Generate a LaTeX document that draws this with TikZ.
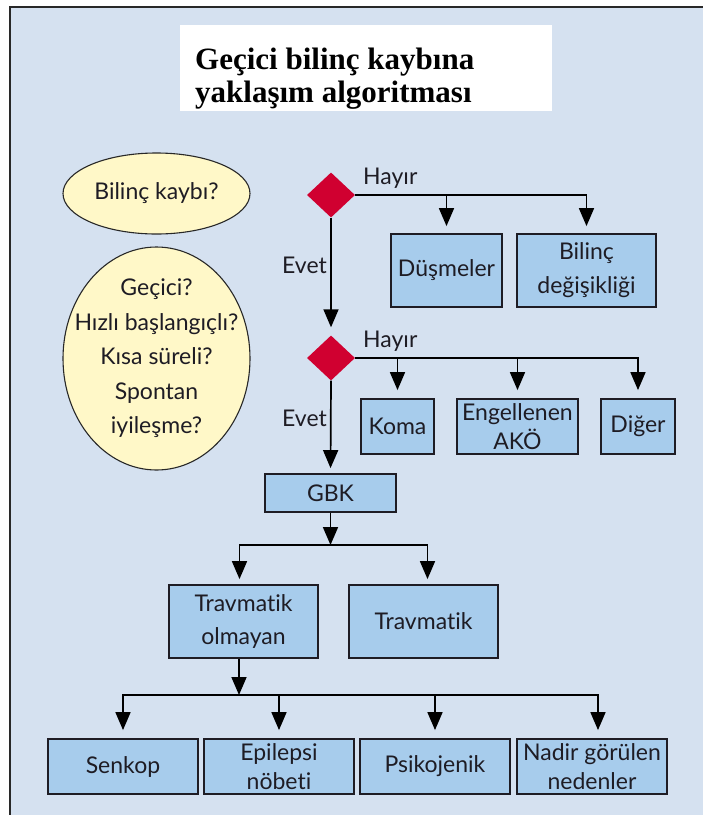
\documentclass[tikz,border=0pt]{standalone}
\usepackage{fontspec}
\usetikzlibrary{arrows.meta,shapes.geometric}
\newfontfamily\boxfont[Ligatures={NoCommon,NoRare}]{Lato}
\newfontfamily\titlefont{Liberation Serif}

\definecolor{bgblue}{RGB}{213,225,240}
\definecolor{boxblue}{RGB}{167,204,236}
\definecolor{cream}{RGB}{255,248,200}
\definecolor{crimson}{RGB}{208,0,48}
\definecolor{ink}{RGB}{30,28,36}
\definecolor{frame}{RGB}{40,40,40}

\tikzset{
  x=1pt, y=-1pt,
  txt/.style={text=ink, font={\boxfont\fontsize{23}{34}\selectfont}},
  stepbox/.style={rectangle, draw=ink, line width=1.8pt, fill=boxblue,
    inner sep=0pt, align=center, txt},
  tight/.style={font={\boxfont\fontsize{23}{28.5}\selectfont}},
  query/.style={ellipse, draw=frame, line width=1.1pt, fill=cream, inner sep=0pt},
  decide/.style={diamond, fill=crimson, inner sep=0pt,
    minimum width=48pt, minimum height=45pt},
  tag/.style={anchor=base west, inner sep=0pt, txt},
  arr/.style={-{Triangle[length=18pt,width=15pt]}, line width=1.7pt, draw=black},
}

\begin{document}
\begin{tikzpicture}
% page and panel
\useasboundingbox (0,0) rectangle (703,815);
\fill[white] (0,0) rectangle (703,815);
\fill[bgblue] (10,7) rectangle (703,815);
\draw[frame, line width=2.2pt] (10,815) -- (10,7) -- (703,7);

% title
\node[fill=white, minimum width=372pt, minimum height=86pt, inner sep=0pt]
  (titlebox) at (366,68) {};
\node[anchor=base west, inner sep=0pt, font={\titlefont\bfseries\fontsize{31}{33}\selectfont}]
  (title1) at (195,69) {Geçici bilinç kaybına};
\node[anchor=base west, inner sep=0pt, font={\titlefont\bfseries\fontsize{31}{33}\selectfont}]
  (title2) at (195,102) {yaklaşım algoritması};

% questions on the left
\node[query, minimum width=187pt, minimum height=81pt] (q1) at (156.5,193.5) {};
\node[txt] (q1t) at (q1) {Bilinç kaybı?};
\node[query, minimum width=187pt, minimum height=223pt] (q2) at (156.5,358.5) {};
\node[txt, align=center, font={\boxfont\fontsize{23}{34.5}\selectfont}] (q2t) at (q2)
  {Geçici?\\Hızlı başlangıçlı?\\Kısa süreli?\\Spontan\\iyileşme?};

% decisions
\node[decide] (d1) at (331,195) {};
\node[decide] (d2) at (331,358) {};

% outcome boxes
\node[stepbox, minimum width=111pt, minimum height=73pt] (dus) at (446.5,270.5) {Düşmeler};
\node[stepbox, minimum width=139pt, minimum height=73pt] (bil) at (586.5,270.5) {Bilinç\\değişikliği};
\node[stepbox, minimum width=73pt, minimum height=55pt] (koma) at (397.5,426.5) {Koma};
\node[stepbox, tight, minimum width=121pt, minimum height=55pt] (ako) at (517.5,426.5) {Engellenen\\AKÖ};
\node[stepbox, minimum width=74pt, minimum height=55pt] (dig) at (638,426.5) {Diğer};
\node[stepbox, minimum width=131pt, minimum height=38pt] (gbk) at (330.5,493) {GBK};
\node[stepbox, font={\boxfont\fontsize{23}{33}\selectfont}, minimum width=149pt, minimum height=73pt] (tro) at (243.5,621.5) {Travmatik\\olmayan};
\node[stepbox, minimum width=149pt, minimum height=73pt] (tra) at (423.5,621.5) {Travmatik};
\node[stepbox, minimum width=150pt, minimum height=55pt] (sen) at (123,766.5) {Senkop};
\node[stepbox, tight, minimum width=150pt, minimum height=55pt] (epi) at (279,766.5) {Epilepsi\\nöbeti};
\node[stepbox, minimum width=150pt, minimum height=55pt] (psi) at (435,766.5) {Psikojenik};
\node[stepbox, tight, minimum width=150pt, minimum height=55pt] (nad) at (592,766.5) {Nadir görülen\\nedenler};

% branch labels
\node[tag] (hy1) at (363,184) {Hayır};
\node[tag] (ev1) at (282,273) {Evet};
\node[tag] (hy2) at (363,347) {Hayır};
\node[tag] (ev2) at (282,426) {Evet};

% junction points
\coordinate (j1) at (330.5,545);
\coordinate (j2) at (239,695);

% connectors
\draw[arr, shorten >=7pt] (d1.east) -| (bil.north);
\draw[arr, shorten >=7pt] (d1.east -| dus.north) -- (dus.north);
\draw[arr, shorten >=8pt] (d1.south) -- (d2.north);
\draw[arr, shorten >=8pt] (d2.east) -| (dig.north);
\draw[arr, shorten >=8pt] (d2.east -| koma.north) -- (koma.north);
\draw[arr, shorten >=8pt] (d2.east -| ako.north) -- (ako.north);
\draw[arr, shorten >=5pt] (d2.south) -- (gbk.north);
\draw[arr] (gbk.south) -- (j1);
\draw[arr, shorten >=5pt] (j1) -| ([xshift=-4pt]tro.north);
\draw[arr, shorten >=5pt] (j1) -| ([xshift=4pt]tra.north);
\draw[arr] ([xshift=-4.5pt]tro.south) -- (j2);
\draw[arr, shorten >=8pt] (j2) -| (sen.north);
\draw[arr, shorten >=8pt] (j2 -| epi.north) -- (epi.north);
\draw[arr, shorten >=8pt] (j2 -| psi.north) -- (psi.north);
\draw[arr, shorten >=8pt] (j2) -| ([xshift=6pt]nad.north);
\end{tikzpicture}
\end{document}
